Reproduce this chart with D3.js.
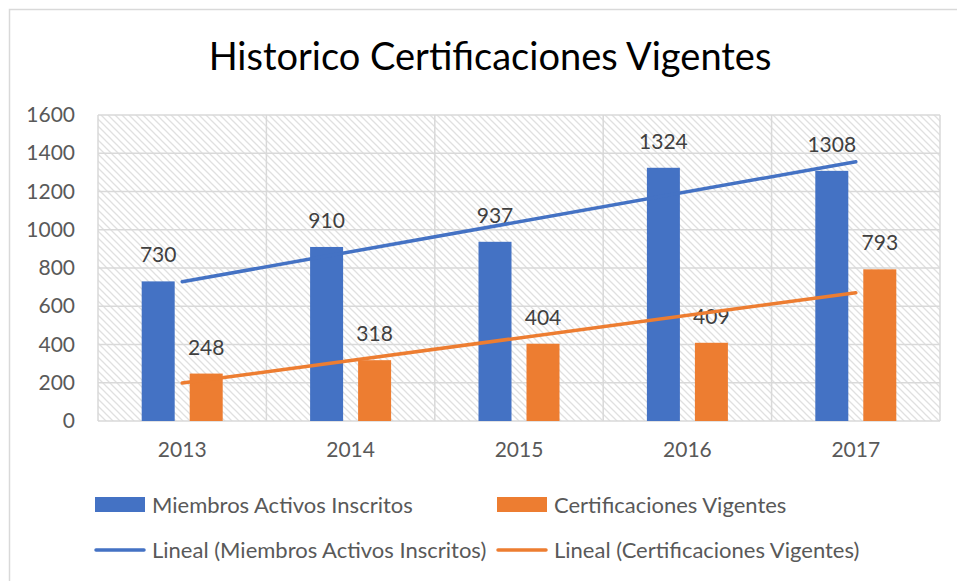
<!DOCTYPE html>
<html>
<head>
<meta charset="utf-8">
<script src="https://cdn.jsdelivr.net/npm/d3@7"></script>
<style>
  body { margin: 0; background: #fff; }
  svg { font-family: Lato, "Open Sans", sans-serif; }
</style>
</head>
<body>
<div id="chart"></div>
<script>
const years = ["2013", "2014", "2015", "2016", "2017"];
const miembros = [730, 910, 937, 1324, 1308];
const certificaciones = [248, 318, 404, 409, 793];
const seriesNames = ["Miembros Activos Inscritos", "Certificaciones Vigentes"];
const yTicks = [0, 200, 400, 600, 800, 1000, 1200, 1400, 1600];
const colors = ["#4472C4", "#ED7D31"];

const width = 957;
const height = 581;
const margin = { top: 115, right: 17, bottom: 160, left: 98 };

const svg = d3.select("#chart").append("svg")
  .attr("width", width)
  .attr("height", height);

// hatch pattern for the plot area
const defs = svg.append("defs");
defs.append("pattern")
  .attr("id", "hatch")
  .attr("patternUnits", "userSpaceOnUse")
  .attr("width", 7)
  .attr("height", 7)
  .append("path")
  .attr("d", "M-2,5 L2,9 M0,0 L7,7 M5,-2 L9,2")
  .attr("stroke", "#e0e0e0")
  .attr("stroke-width", 1.3);

// outer chart border
svg.append("rect")
  .attr("x", 9.5).attr("y", 9.5)
  .attr("width", width + 20).attr("height", height + 20)
  .attr("fill", "none")
  .attr("stroke", "#d9d9d9")
  .attr("stroke-width", 1.5);

const x = d3.scaleBand()
  .domain(years)
  .range([margin.left, width - margin.right]);

const xInner = d3.scaleBand()
  .domain(seriesNames)
  .range([x.bandwidth() / 2 - 40.5, x.bandwidth() / 2 + 40.5])
  .paddingInner(0.3125);

const y = d3.scaleLinear()
  .domain([0, 1600])
  .range([height - margin.bottom, margin.top]);

// plot background
svg.append("rect")
  .attr("x", margin.left)
  .attr("y", margin.top)
  .attr("width", x.range()[1] - margin.left)
  .attr("height", y(0) - margin.top)
  .attr("fill", "url(#hatch)");

// gridlines
const grid = svg.append("g").attr("stroke", "#d9d9d9").attr("stroke-width", 1.5);
grid.selectAll(".hgrid")
  .data(yTicks)
  .join("line")
  .attr("x1", margin.left)
  .attr("x2", x.range()[1])
  .attr("y1", (d) => y(d))
  .attr("y2", (d) => y(d));
grid.selectAll(".vgrid")
  .data(years.concat([null]))
  .join("line")
  .attr("x1", (d) => (d ? x(d) : x.range()[1]))
  .attr("x2", (d) => (d ? x(d) : x.range()[1]))
  .attr("y1", margin.top)
  .attr("y2", y(0));

// Y axis
svg.append("g")
  .attr("transform", `translate(${margin.left},0)`)
  .call(d3.axisLeft(y).tickValues(yTicks).tickFormat(d3.format("d")).tickSize(0).tickPadding(23))
  .call((g) => g.select(".domain").remove())
  .call((g) => g.selectAll("text")
    .attr("fill", "#595959")
    .attr("font-size", 21)
    .attr("font-family", "Lato, sans-serif"));

// X axis
svg.append("g")
  .attr("transform", `translate(0,${y(0)})`)
  .call(d3.axisBottom(x).tickSize(0).tickPadding(21))
  .call((g) => g.select(".domain").remove())
  .call((g) => g.selectAll("text")
    .attr("fill", "#595959")
    .attr("font-size", 21)
    .attr("font-family", "Lato, sans-serif"));

// bars
const data = years.map((year, i) => ({
  year,
  values: [miembros[i], certificaciones[i]],
}));

const group = svg.append("g")
  .selectAll(".year")
  .data(data)
  .join("g")
  .attr("transform", (d) => `translate(${x(d.year)},0)`);

group.selectAll("rect")
  .data((d) => d.values.map((v, j) => ({ v, j })))
  .join("rect")
  .attr("x", (d) => xInner(seriesNames[d.j]))
  .attr("width", xInner.bandwidth())
  .attr("y", (d) => y(d.v))
  .attr("height", (d) => y(0) - y(d.v))
  .attr("fill", (d) => colors[d.j]);

group.selectAll(".label")
  .data((d) => d.values.map((v, j) => ({ v, j })))
  .join("text")
  .attr("class", "label")
  .attr("x", (d) => xInner(seriesNames[d.j]) + xInner.bandwidth() / 2)
  .attr("y", (d) => y(d.v) - 19)
  .attr("text-anchor", "middle")
  .attr("fill", "#404040")
  .attr("font-size", 21)
  .text((d) => d.v);

// linear trend lines (least squares)
function trend(values) {
  const n = values.length;
  const xs = values.map((d, i) => i + 1);
  const mx = d3.mean(xs);
  const my = d3.mean(values);
  const slope = d3.sum(xs, (xv, i) => (xv - mx) * (values[i] - my)) /
    d3.sum(xs, (xv) => (xv - mx) ** 2);
  const b = my - slope * mx;
  return [
    { year: years[0], v: b + slope * 1 },
    { year: years[n - 1], v: b + slope * n },
  ];
}

const line = d3.line()
  .x((d) => x(d.year) + x.bandwidth() / 2)
  .y((d) => y(d.v));

[miembros, certificaciones].forEach((values, i) => {
  svg.append("path")
    .attr("fill", "none")
    .attr("stroke", colors[i])
    .attr("stroke-width", 3.5)
    .attr("stroke-linecap", "round")
    .attr("d", line(trend(values)));
});

// title
svg.append("text")
  .attr("x", 490)
  .attr("y", 70)
  .attr("text-anchor", "middle")
  .attr("font-size", 38)
  .attr("fill", "#000")
  .text("Historico Certificaciones Vigentes");

// legend
const legendItems = [
  { name: seriesNames[0], color: colors[0], type: "rect", x: 95, y: 505 },
  { name: seriesNames[1], color: colors[1], type: "rect", x: 497, y: 505 },
  { name: "Lineal (" + seriesNames[0] + ")", color: colors[0], type: "line", x: 95, y: 550 },
  { name: "Lineal (" + seriesNames[1] + ")", color: colors[1], type: "line", x: 497, y: 550 },
];

const legend = svg.append("g")
  .selectAll(".legend")
  .data(legendItems)
  .join("g")
  .attr("transform", (d) => `translate(${d.x},${d.y})`);

legend.filter((d) => d.type === "rect")
  .append("rect")
  .attr("x", 0).attr("y", -8)
  .attr("width", 50).attr("height", 15)
  .attr("fill", (d) => d.color);

legend.filter((d) => d.type === "line")
  .append("line")
  .attr("x1", 1).attr("x2", 49)
  .attr("stroke", (d) => d.color)
  .attr("stroke-width", 3.5)
  .attr("stroke-linecap", "round");

legend.append("text")
  .attr("x", 57)
  .attr("dy", "0.35em")
  .attr("font-size", 22)
  .attr("fill", "#595959")
  .text((d) => d.name);
</script>
</body>
</html>
